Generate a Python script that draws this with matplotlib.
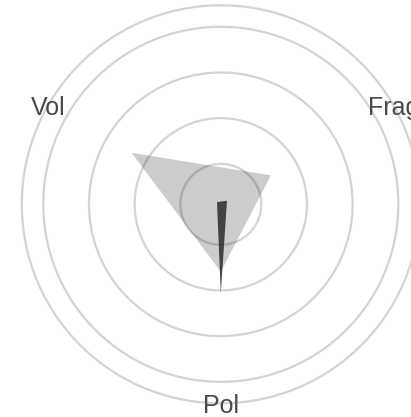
import numpy as np
import matplotlib
matplotlib.use("Agg")
import matplotlib.pyplot as plt

categories = ["Vol", "Frag", "Pol"]
series_light = [2.37, 1.38, 1.59]
series_dark = [0.21, 0.27, 2.06]
ring_values = [1, 2, 3, 4]
r_min, r_max = 0.114, 4.47

plt.rcParams['font.family'] = ['Liberation Sans', 'DejaVu Sans']

fig = plt.figure(figsize=(4.11, 4.17), dpi=100)
W, H = 411, 417
cx, cy, R = 220.8, 204.3, 199.0
ax = fig.add_axes([(cx - R) / W, (H - cy - R) / H, 2 * R / W, 2 * R / H], projection='polar')
ax.set_theta_offset(np.deg2rad(150))
ax.set_theta_direction(-1)

n = len(categories)
angles = np.arange(n) * 2 * np.pi / n
ang_closed = np.concatenate([angles, angles[:1]])

ax.set_ylim(r_min, r_max)
ax.set_yticks(ring_values)
ax.set_yticklabels([])
ax.set_xticks([])
ax.yaxis.grid(True, color='#d4d4d4', lw=1.6)
ax.xaxis.grid(False)
ax.spines['polar'].set_color('#d4d4d4')
ax.spines['polar'].set_linewidth(1.6)
ax.set_axisbelow(True)

light = np.concatenate([series_light, series_light[:1]])
dark = np.concatenate([series_dark, series_dark[:1]])
ax.fill(ang_closed, light, color='black', alpha=0.2, lw=0, zorder=2)
ax.fill(ang_closed, dark, color='#2a2a2a', alpha=0.85, lw=0, zorder=3)

for a, lab in zip(angles, categories):
    ax.annotate(lab, xy=(a, r_max), xytext=(0, -2), textcoords='offset points',
                ha='center', va='center', fontsize=18, color='#4a4a4a', zorder=5,
                annotation_clip=False)

fig.savefig("out.png", dpi=100)
